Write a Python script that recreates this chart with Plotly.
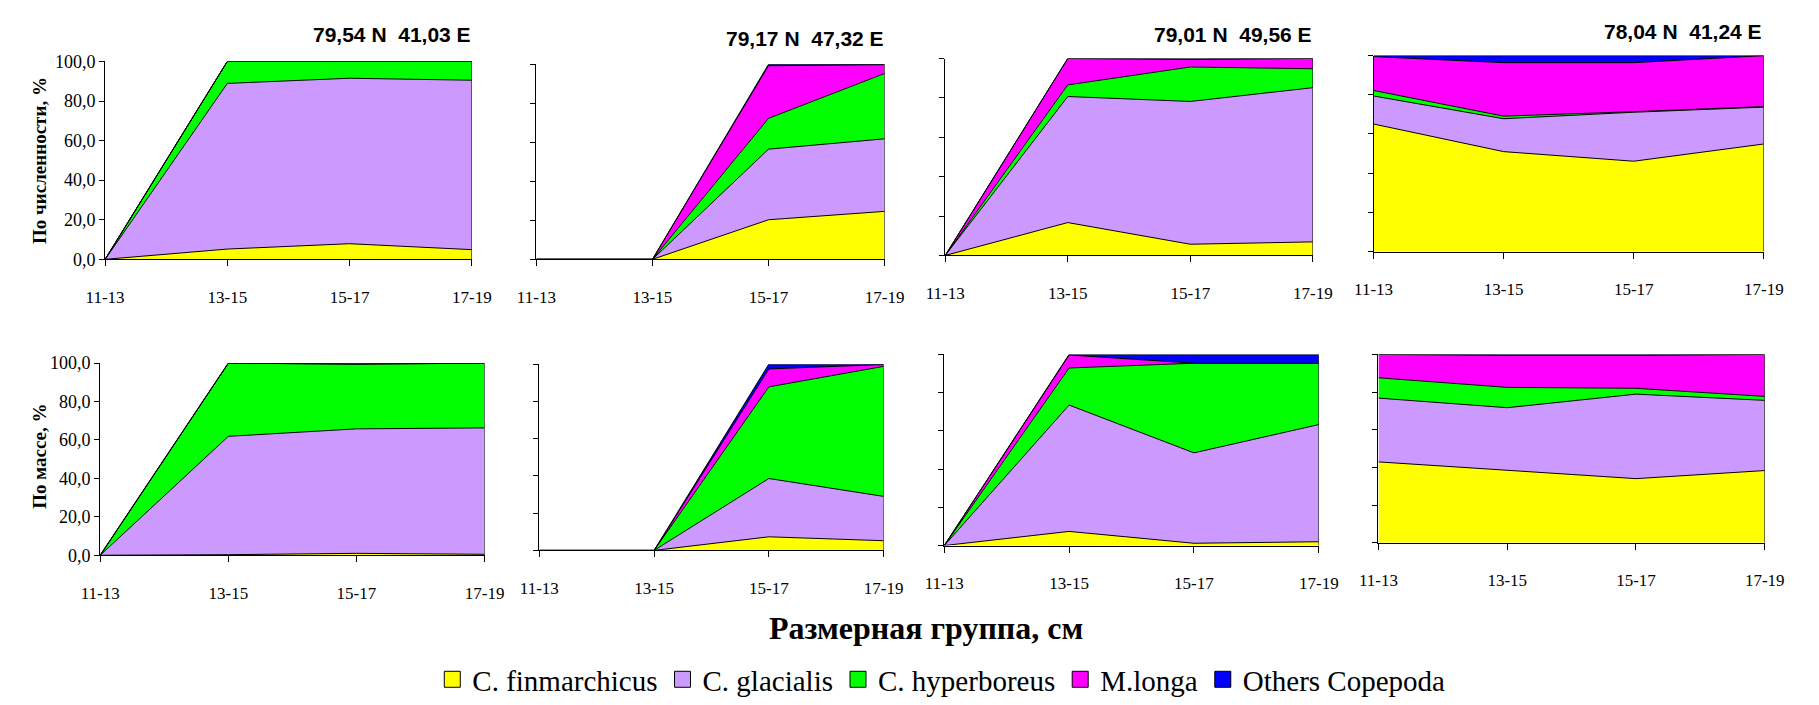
import plotly.graph_objects as go

W, H = 1819, 705

categories = ["11-13", "13-15", "15-17", "17-19"]
stations = ["79,54 N  41,03 E", "79,17 N  47,32 E", "79,01 N  49,56 E", "78,04 N  41,24 E"]
species = ["C. finmarchicus", "C. glacialis", "C. hyperboreus", "M.longa", "Others Copepoda"]
colors = ["#FFFF00", "#CC99FF", "#00FF00", "#FF00FF", "#0000FF"]

# By abundance (%), one list per station
num_fin = [[0, 5.2, 7.9, 4.9], [0, 0, 20.3, 24.6], [0, 16.7, 5.7, 6.9], [65.1, 51.0, 46.1, 54.9]]
num_gla = [[0, 83.7, 83.6, 85.6], [0, 0, 36.2, 37.2], [0, 64.0, 72.5, 78.3], [14.3, 16.8, 25.0, 18.8]]
num_hyp = [[0, 11.1, 8.5, 9.5], [0, 0, 15.8, 33.5], [0, 5.9, 17.5, 9.6], [2.8, 1.3, 0.3, 0.3]]
num_mlo = [[0, 0, 0, 0], [0, 0, 27.0, 4.5], [0, 13.4, 3.8, 5.2], [17.3, 27.3, 25.0, 26.0]]
num_oth = [[0, 0, 0, 0], [0, 0, 0.7, 0.2], [0, 0, 0.5, 0], [0.5, 3.6, 3.6, 0.0]]

# By mass (%), one list per station
mas_fin = [[0, 0.3, 1.0, 0.5], [0, 0, 7.3, 5.2], [0, 7.4, 1.2, 2.0], [42.9, 38.3, 34.0, 38.3]]
mas_gla = [[0, 61.6, 64.8, 65.8], [0, 0, 31.3, 23.8], [0, 66.1, 47.3, 61.3], [33.9, 33.4, 44.9, 37.3]]
mas_hyp = [[0, 38.1, 33.7, 33.7], [0, 0, 49.2, 69.8], [0, 19.4, 46.9, 32.1], [10.8, 10.8, 3.1, 2.1]]
mas_mlo = [[0, 0, 0, 0], [0, 0, 9.6, 1.0], [0, 6.8, 0, 0], [12.4, 17.0, 17.5, 22.3]]
mas_oth = [[0, 0, 0.5, 0], [0, 0, 2.6, 0.2], [0, 0.3, 4.6, 4.6], [0, 0.5, 0.5, 0]]

yticks = [0, 20, 40, 60, 80, 100]

# panel pixel boxes (left, right, top, bottom)
boxes = [
    (87, 462, 53, 257), (528, 884, 56, 257), (946, 1322, 50, 253), (1384, 1783, 47, 249),
    (82, 475, 364, 562), (531, 883, 365, 557), (945, 1328, 355, 552), (1389, 1784, 355, 549),
]
title_pos = [(380, 25), (803, 29), (1240, 25), (1700, 22)]

fig = go.Figure()
serif = "Liberation Serif"

datasets = []
for s in range(4):
    datasets.append([num_fin[s], num_gla[s], num_hyp[s], num_mlo[s], num_oth[s]])
for s in range(4):
    datasets.append([mas_fin[s], mas_gla[s], mas_hyp[s], mas_mlo[s], mas_oth[s]])

for k in range(8):
    idx = k + 1
    xa = "x" if idx == 1 else f"x{idx}"
    ya = "y" if idx == 1 else f"y{idx}"
    data = datasets[k]
    for j, name in enumerate(species):
        fig.add_trace(go.Scatter(
            x=categories, y=data[j], name=name, mode="lines",
            stackgroup=f"g{idx}", fill="tonexty",
            fillcolor=colors[j], line=dict(color="black", width=1),
            legendgroup=name, showlegend=False,
            xaxis=xa, yaxis=ya, hoverinfo="skip",
        ))
    total = sum(d[-1] for d in data)
    fig.add_trace(go.Scatter(
        x=[categories[-1], categories[-1]], y=[0, total], mode="lines",
        line=dict(color="black", width=1), showlegend=False,
        xaxis=xa, yaxis=ya, hoverinfo="skip",
    ))
    l, r, t, b = boxes[k]
    xd = [l / W, r / W]
    yd = [1 - b / H, 1 - t / H]
    first_col = k in (0, 4)
    fig.layout[f"xaxis{'' if idx == 1 else idx}"] = dict(
        domain=xd, anchor=ya, type="category", range=[0, 3],
        showline=True, linecolor="black", linewidth=1,
        ticks="outside", ticklen=6, tickcolor="black",
        tickfont=dict(family=serif, size=17, color="black"),
        ticklabelstandoff=16, showgrid=False, zeroline=False, fixedrange=True,
    )
    fig.layout[f"yaxis{'' if idx == 1 else idx}"] = dict(
        domain=yd, anchor=xa, range=[0, 100], tickvals=yticks, tickformat=".1f",
        showline=True, linecolor="black", linewidth=1,
        ticks="outside", ticklen=5, tickcolor="black",
        showticklabels=first_col,
        tickfont=dict(family=serif, size=18, color="black"),
        showgrid=False, zeroline=False, fixedrange=True,
    )

# legend entries as square swatches
for j, name in enumerate(species):
    fig.add_trace(go.Scatter(
        x=[None], y=[None], name=name, mode="markers",
        marker=dict(symbol="square", size=18, color=colors[j], line=dict(color="black", width=1)),
        legendgroup=name, showlegend=True, xaxis="x", yaxis="y", hoverinfo="skip",
    ))

annotations = []
for s, (tx, ty) in enumerate(title_pos):
    annotations.append(dict(
        x=tx / W, y=1 - ty / H, xref="paper", yref="paper", showarrow=False,
        text=stations[s].replace("  ", "\u00a0\u00a0"), xanchor="center", yanchor="middle",
        font=dict(family="Liberation Sans", size=21, color="black", weight="bold"),
    ))
annotations.append(dict(
    x=20 / W, y=1 - 155 / H, xref="paper", yref="paper", showarrow=False,
    text="По численности, %", textangle=-90, xanchor="center", yanchor="middle",
    font=dict(family=serif, size=19, color="black", weight="bold"),
))
annotations.append(dict(
    x=20 / W, y=1 - 460 / H, xref="paper", yref="paper", showarrow=False,
    text="По массе, %", textangle=-90, xanchor="center", yanchor="middle",
    font=dict(family=serif, size=19, color="black", weight="bold"),
))
annotations.append(dict(
    x=926 / W, y=1 - 637 / H, xref="paper", yref="paper", showarrow=False,
    text="Размерная группа, см", xanchor="center", yanchor="middle",
    font=dict(family=serif, size=32, color="black", weight="bold"),
))

fig.update_layout(
    width=W, height=H, margin=dict(l=0, r=0, t=0, b=0),
    paper_bgcolor="white", plot_bgcolor="white",
    separators=", ",
    annotations=annotations,
    legend=dict(
        orientation="h", x=942 / W, xanchor="center", y=1 - 690 / H, yanchor="middle",
        font=dict(family=serif, size=29, color="black"), traceorder="normal",
        bgcolor="rgba(0,0,0,0)", itemwidth=30,
    ),
)

fig.write_html("out.html", config={"displayModeBar": False},
               post_script="document.body.style.margin='0';")
